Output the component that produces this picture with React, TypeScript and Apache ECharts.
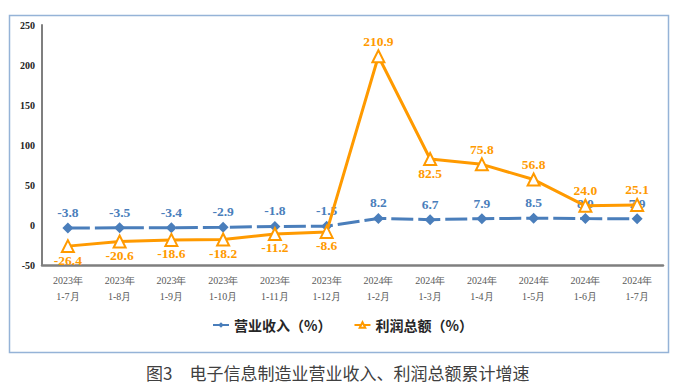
import React, { useEffect, useRef } from "react";
import * as echarts from "echarts";

const categories = [
  "2023年\n1-7月", "2023年\n1-8月", "2023年\n1-9月", "2023年\n1-10月", "2023年\n1-11月", "2023年\n1-12月",
  "2024年\n1-2月", "2024年\n1-3月", "2024年\n1-4月", "2024年\n1-5月", "2024年\n1-6月", "2024年\n1-7月",
];
const revenue = [-3.8, -3.5, -3.4, -2.9, -1.8, -1.5, 8.2, 6.7, 7.9, 8.5, 8.0, 7.9];
const profit = [-26.4, -20.6, -18.6, -18.2, -11.2, -8.6, 210.9, 82.5, 75.8, 56.8, 24.0, 25.1];
const profitLabelPos = ["bottom", "bottom", "bottom", "bottom", "bottom", "bottom", "top", "bottom", "top", "top", "top", "top"];
const seriesNames = ["营业收入（%）", "利润总额（%）"];
const caption = "图3　电子信息制造业营业收入、利润总额累计增速";

const BLUE = "#4A7EBB";
const ORANGE = "#FF9A00";

export default function App() {
  const ref = useRef<HTMLDivElement>(null);
  useEffect(() => {
    if (!ref.current) return;
    const chart = echarts.init(ref.current, null, { renderer: "svg" });
    const labelFont = { fontFamily: "Liberation Serif", fontWeight: "bold", fontSize: 13.5 };
    chart.setOption({
      animation: false,
      backgroundColor: "#ffffff",
      grid: { left: 42, right: 16, top: 25, bottom: 122 },
      xAxis: {
        type: "category",
        data: categories,
        boundaryGap: true,
        axisLine: { onZero: false, lineStyle: { color: "#7f7f7f", width: 2.5 } },
        axisTick: { show: false },
        axisLabel: {
          interval: 0,
          margin: 7,
          color: "#595959",
          fontFamily: "Liberation Serif",
          fontSize: 10,
          lineHeight: 16,
        },
      },
      yAxis: {
        type: "value",
        min: -50,
        max: 250,
        interval: 50,
        splitLine: { show: false },
        axisLine: { show: true, lineStyle: { color: "#7f7f7f", width: 2 } },
        axisTick: { show: false },
        axisLabel: {
          margin: 7,
          color: "#222",
          fontFamily: "Liberation Serif",
          fontWeight: "bold",
          fontSize: 10,
        },
      },
      legend: {
        left: 207,
        top: 313,
        itemWidth: 16,
        itemHeight: 7,
        itemGap: 22,
        textStyle: { fontFamily: "Noto Sans CJK SC", fontWeight: "bold", fontSize: 14, color: "#262626" },
        data: seriesNames,
      },
      series: [
        {
          name: seriesNames[0],
          type: "line",
          data: revenue,
          symbol: "diamond",
          symbolSize: 11,
          itemStyle: { color: BLUE },
          lineStyle: { color: BLUE, width: 3, type: [22, 5] },
          label: { show: true, position: "top", distance: 3, color: BLUE, ...labelFont, formatter: (p: any) => p.value.toFixed(1) },
          z: 2,
        },
        {
          name: seriesNames[1],
          type: "line",
          data: profit.map((v, i) => ({
            value: v,
            label: { position: profitLabelPos[i], distance: profitLabelPos[i] === "top" ? 1 : 0 },
          })),
          symbol: "triangle",
          symbolSize: 12,
          itemStyle: { color: "#ffffff", borderColor: ORANGE, borderWidth: 2 },
          lineStyle: { color: ORANGE, width: 3 },
          label: { show: true, color: ORANGE, ...labelFont, formatter: (p: any) => p.value.toFixed(1) },
          z: 3,
        },
      ],
      graphic: [
        {
          type: "rect",
          shape: { x: 9.5, y: 15.5, width: 659, height: 337 },
          style: { fill: "none", stroke: "#95B3D7", lineWidth: 1.5 },
          silent: true,
        },
        {
          type: "text",
          x: 146,
          y: 372,
          style: {
            text: caption,
            fontFamily: "Noto Sans CJK SC",
            fontSize: 17,
            fill: "#404040",
            textAlign: "left",
            textVerticalAlign: "middle",
          },
        },
      ],
    });
    return () => chart.dispose();
  }, []);
  return (
    <div
      ref={ref}
      style={{ position: "fixed", left: 0, top: 0, width: 679, height: 387, background: "#fff" }}
    />
  );
}
